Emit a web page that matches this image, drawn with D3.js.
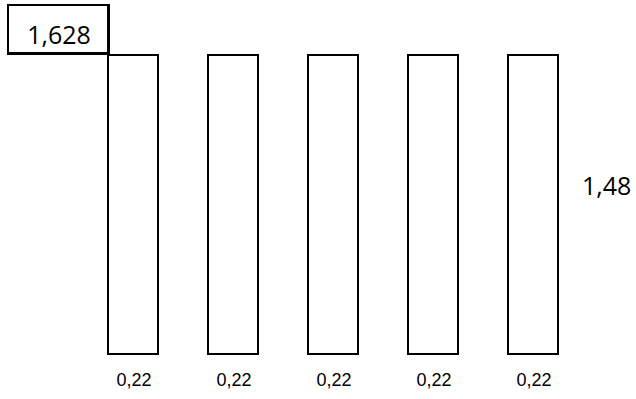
<!DOCTYPE html>
<html><head><meta charset="utf-8">
<script src="https://cdn.jsdelivr.net/npm/d3@7"></script>
<style>body{margin:0;background:#fff}svg{display:block}</style>
</head><body>
<script>
const categories = ["A","B","C","D","E"];
const widthLabels = ["0,22","0,22","0,22","0,22","0,22"];
const heights = [1.48,1.48,1.48,1.48,1.48];
const heightLabel = "1,48";
const totalLabel = "1,628";

const W = 636, H = 399;
const svg = d3.select("body").append("svg").attr("width", W).attr("height", H);

const x = d3.scaleBand().domain(categories).range([83, 583]).paddingInner(0.5).paddingOuter(0.25);
const y = d3.scaleLinear().domain([0, 1.48]).range([354, 55]);

svg.selectAll("rect.bar").data(heights).join("rect")
  .attr("class","bar")
  .attr("x", (d,i) => x(categories[i]))
  .attr("y", d => y(d))
  .attr("width", x.bandwidth())
  .attr("height", d => y(0) - y(d))
  .attr("fill","#fff").attr("stroke","#000").attr("stroke-width",2);

svg.selectAll("text.wl").data(widthLabels).join("text")
  .attr("class","wl")
  .attr("x", (d,i) => x(categories[i]) + x.bandwidth()/2 + 1)
  .attr("y", 386)
  .attr("text-anchor","middle")
  .attr("font-family","'Liberation Sans', Arial, sans-serif")
  .attr("font-size", 18)
  .attr("fill","#000")
  .text(d => d);

// total label box
const bx1 = x(categories[0]);
const by1 = y(heights[0]) - 2;
svg.append("rect").attr("x", 8).attr("y", 5).attr("width", bx1 - 8).attr("height", by1 - 5)
  .attr("fill","#fff").attr("stroke","#000").attr("stroke-width",2);
svg.append("line").attr("x1", bx1 + 0.5).attr("x2", bx1 + 0.5).attr("y1", 4).attr("y2", y(heights[0]))
  .attr("stroke","#000").attr("stroke-width",3);
svg.append("line").attr("x1", 7).attr("x2", bx1 + 2).attr("y1", by1 + 0.5).attr("y2", by1 + 0.5)
  .attr("stroke","#000").attr("stroke-width",3);
svg.append("text").attr("x", 59).attr("y", 43.5).attr("text-anchor","middle")
  .attr("font-family","'Open Sans', sans-serif").attr("font-size", 25).attr("fill","#000")
  .text(totalLabel);

svg.append("text").attr("x", 582).attr("y", 195).attr("text-anchor","start")
  .attr("font-family","'Open Sans', sans-serif").attr("font-size", 25).attr("fill","#000")
  .text(heightLabel);
</script>
</body></html>
